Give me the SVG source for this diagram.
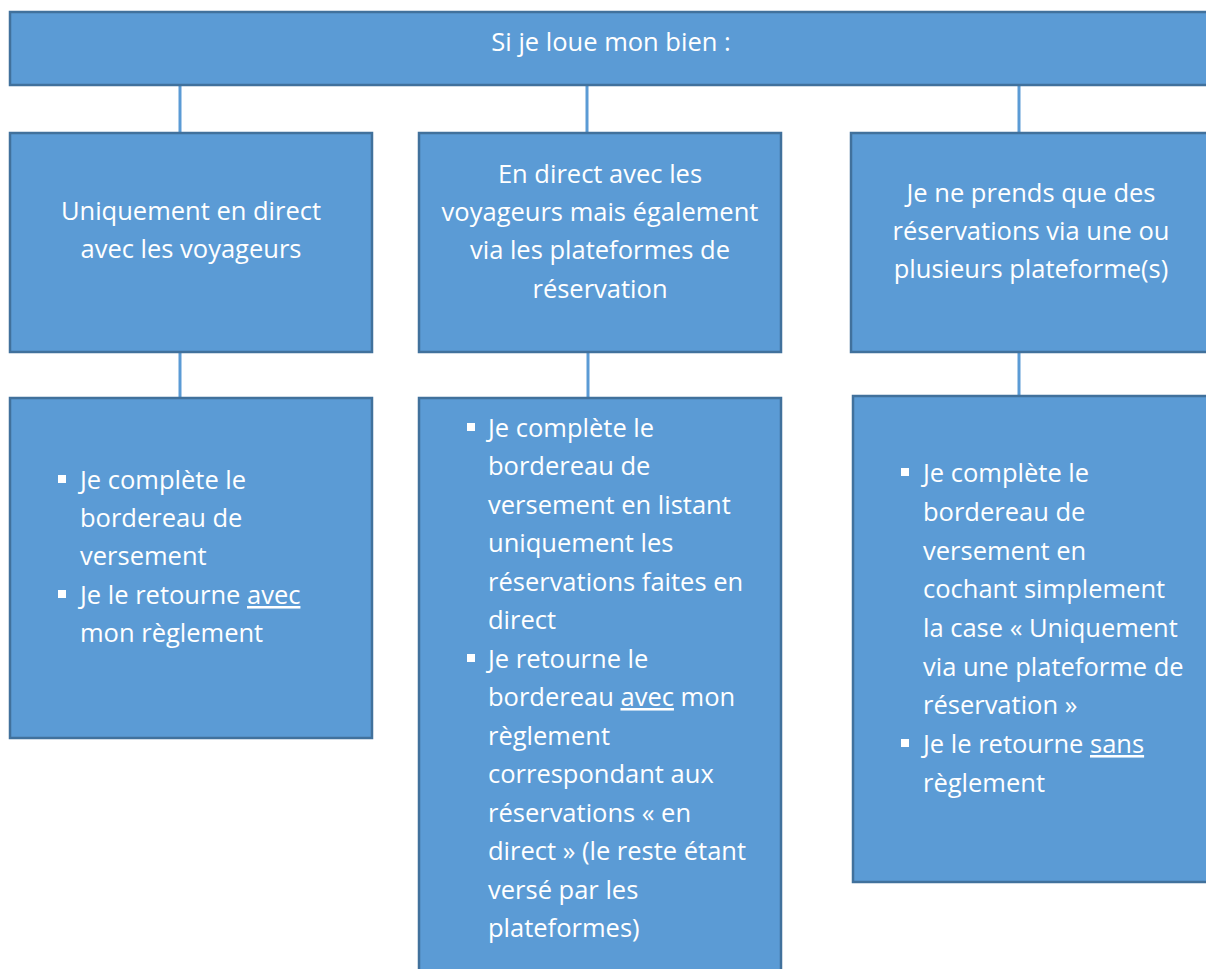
<svg xmlns="http://www.w3.org/2000/svg" width="1206" height="969" viewBox="0 0 1206 969">
<style>
.box{fill:#5B9BD5;stroke:#41719C;stroke-width:2.5}
.conn{stroke:#5B9BD5;stroke-width:3;fill:none}
.t{font-family:"Open Sans","Noto Sans",sans-serif;font-size:25.5px;fill:#FFFFFF}
.c{text-anchor:middle}
.b{fill:#FFFFFF}
.u{text-decoration:underline}
</style>
<rect width="1206" height="969" fill="#FFFFFF"/>
<g id="connectors">
<line class="conn" x1="180" y1="85" x2="180" y2="133"/>
<line class="conn" x1="587" y1="85" x2="587" y2="133"/>
<line class="conn" x1="1019" y1="85" x2="1019" y2="133"/>
<line class="conn" x1="180" y1="352" x2="180" y2="398"/>
<line class="conn" x1="588" y1="352" x2="588" y2="398"/>
<line class="conn" x1="1019" y1="352" x2="1019" y2="396"/>
</g>
<g id="root">
<rect class="box" x="10" y="12" width="1202" height="73"/>
<text class="t c" x="611" y="51">Si je loue mon bien :</text>
</g>
<g id="opt1">
<rect class="box" x="10" y="133" width="362" height="219"/>
<text class="t c" x="191" y="220">Uniquement en direct</text>
<text class="t c" x="191" y="258">avec les voyageurs</text>
</g>
<g id="opt2">
<rect class="box" x="419" y="133" width="362" height="219"/>
<text class="t c" x="600" y="183">En direct avec les</text>
<text class="t c" x="600" y="221">voyageurs mais également</text>
<text class="t c" x="600" y="259">via les plateformes de</text>
<text class="t c" x="600" y="298">réservation</text>
</g>
<g id="opt3">
<rect class="box" x="851" y="133" width="362" height="219"/>
<text class="t c" x="1031" y="202">Je ne prends que des</text>
<text class="t c" x="1031" y="240">réservations via une ou</text>
<text class="t c" x="1031" y="278">plusieurs plateforme(s)</text>
</g>
<g id="action1">
<rect class="box" x="10" y="398" width="362" height="340"/>
<rect class="b" x="58" y="475" width="8" height="8"/>
<rect class="b" x="58" y="590" width="8" height="8"/>
<text class="t" x="80" y="489">Je complète le</text>
<text class="t" x="80" y="527">bordereau de</text>
<text class="t" x="80" y="565">versement</text>
<text class="t" x="80" y="604">Je le retourne <tspan class="u">avec</tspan></text>
<text class="t" x="80" y="642">mon règlement</text>
</g>
<g id="action2">
<rect class="box" x="419" y="398" width="362" height="600"/>
<rect class="b" x="467" y="423" width="8" height="8"/>
<rect class="b" x="467" y="654" width="8" height="8"/>
<text class="t" x="488" y="437">Je complète le</text>
<text class="t" x="488" y="475">bordereau de</text>
<text class="t" x="488" y="514">versement en listant</text>
<text class="t" x="488" y="552">uniquement les</text>
<text class="t" x="488" y="591">réservations faites en</text>
<text class="t" x="488" y="629">direct</text>
<text class="t" x="488" y="668">Je retourne le</text>
<text class="t" x="488" y="706">bordereau <tspan class="u">avec</tspan> mon</text>
<text class="t" x="488" y="745">règlement</text>
<text class="t" x="488" y="783">correspondant aux</text>
<text class="t" x="488" y="822">réservations « en</text>
<text class="t" x="488" y="860">direct » (le reste étant</text>
<text class="t" x="488" y="899">versé par les</text>
<text class="t" x="488" y="937">plateformes)</text>
</g>
<g id="action3">
<rect class="box" x="853" y="396" width="362" height="486"/>
<rect class="b" x="901" y="468" width="8" height="8"/>
<rect class="b" x="901" y="739" width="8" height="8"/>
<text class="t" x="923" y="482">Je complète le</text>
<text class="t" x="923" y="521">bordereau de</text>
<text class="t" x="923" y="560">versement en</text>
<text class="t" x="923" y="598">cochant simplement</text>
<text class="t" x="923" y="637">la case « Uniquement</text>
<text class="t" x="923" y="676">via une plateforme de</text>
<text class="t" x="923" y="714">réservation »</text>
<text class="t" x="923" y="753">Je le retourne <tspan class="u">sans</tspan></text>
<text class="t" x="923" y="792">règlement</text>
</g>
</svg>
